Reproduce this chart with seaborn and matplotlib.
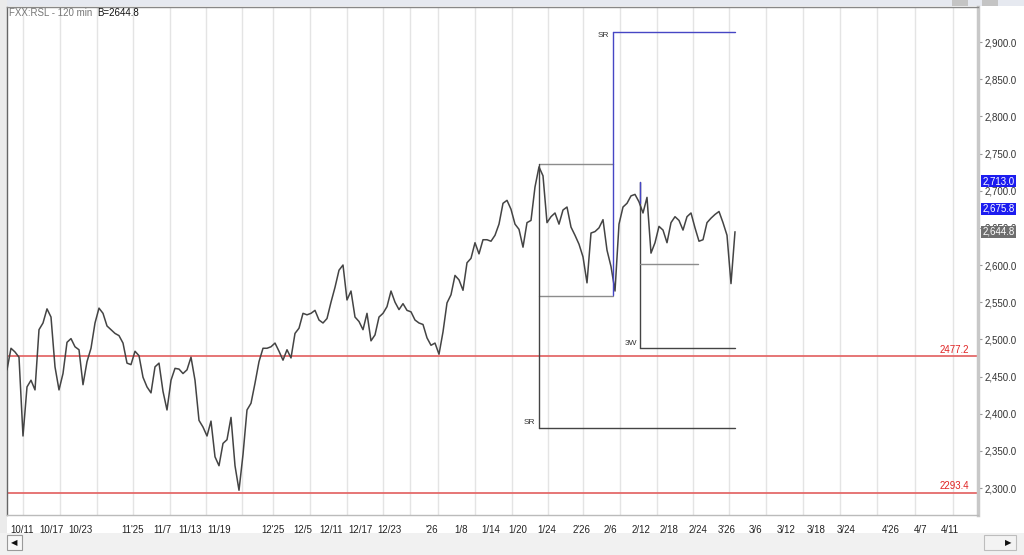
import matplotlib
matplotlib.use("Agg")
import matplotlib.pyplot as plt
from matplotlib.patches import Rectangle
from matplotlib.transforms import blended_transform_factory
import pandas as pd
import seaborn as sns

sns.set_style("white")
plt.rcParams['font.family'] = ['Liberation Sans', 'DejaVu Sans']

# 120 min closes, one value every ~4 px
closes = [
    2459, 2488, 2483, 2476, 2370, 2436, 2445, 2432, 2513, 2522,
    2541, 2530, 2463, 2432, 2454, 2496, 2501, 2490, 2486, 2439,
    2470, 2488, 2522, 2542, 2535, 2518, 2513, 2508, 2505, 2495,
    2468, 2466, 2484, 2478, 2449, 2436, 2428, 2463, 2468, 2430,
    2405, 2445, 2461, 2460, 2454, 2459, 2476, 2445, 2391, 2382,
    2370, 2390, 2342, 2330, 2360, 2365, 2395, 2330, 2297, 2345,
    2405, 2414, 2441, 2470, 2488, 2488, 2490, 2495, 2484, 2472,
    2486, 2475, 2508, 2515, 2535, 2533, 2535, 2539, 2526, 2522,
    2528, 2550, 2570, 2593, 2600, 2553, 2565, 2530, 2524, 2513,
    2535, 2498, 2506, 2530, 2535, 2544, 2565, 2550, 2540, 2548,
    2539, 2537, 2526, 2522, 2520, 2502, 2492, 2495, 2480, 2510,
    2549, 2560, 2586, 2580, 2566, 2603, 2609, 2630, 2615, 2634,
    2634, 2632, 2640, 2655, 2683, 2687, 2675, 2655, 2648, 2624,
    2657, 2660, 2705, 2732, 2720, 2657, 2665, 2670, 2655, 2674,
    2678, 2651, 2640, 2628, 2611, 2576, 2643, 2645, 2650, 2661,
    2620, 2598, 2565, 2655, 2678, 2683, 2693, 2695, 2685, 2670,
    2691, 2616, 2630, 2652, 2647, 2630, 2657, 2665, 2660, 2647,
    2665, 2670, 2650, 2632, 2634, 2657, 2663, 2668, 2672, 2657,
    2640, 2575, 2644.8,
]

date_labels = ["10/11", "10/17", "10/23", "11'25", "11/7", "11/13", "11/19",
               "12'25", "12/5", "12/11", "12/17", "12/23", "'26", "1/8", "1/14",
               "1/20", "1/24", "2'26", "2/6", "2/12", "2/18", "2/24", "3'26",
               "3/6", "3/12", "3/18", "3/24", "4'26", "4/7", "4/11"]
date_bars = [0.9, 8.2, 15.4, 28.5, 36.5, 42.75, 50, 63.5, 71.5, 78, 85.25,
             92.5, 104.5, 111.75, 118.5, 125.4, 132.6, 141.5, 149.25, 156.1,
             163.2, 170.4, 177.75, 185.4, 192.4, 199.8, 207.4, 218.6, 226.75,
             233.4]

grid_bars = [4, 13.25, 22.5, 31.5, 40.75, 49.75, 58.75, 66.5, 75.75, 85, 94,
             100.75, 107.75, 117, 126.25, 135.25, 144, 153.25, 162.5, 171.5,
             180.5, 189.75, 199, 208.25, 217.5, 227, 236.5]

# red support levels
support_levels = [2477.2, 2293.4]

# drawn study: SR box, SR targets, 3W target
box_bars = [133, 151.5]
box_levels = [2558, 2736]
sr_low_level = 2381
sr_high_level = 2913
blue_low = 2560
w3_bar = 158.25
w3_top = 2712
w3_box_level = 2601
w3_box_end = 172.75
w3_level = 2488
end_bar = 182

# highlighted price tags on the right scale
tag_values = [2713.0, 2675.8, 2644.8]
tag_colors = ["#1c1cf0", "#1c1cf0", "#6e6e6e"]

df = pd.DataFrame({"bar": range(len(closes)), "close": closes})

fig = plt.figure(figsize=(10.24, 5.55), dpi=100)
fig.patch.set_facecolor("white")
ax = fig.add_axes([7 / 1024, 40 / 555, 971 / 1024, 508 / 555])
ax.set_facecolor("white")

for g in grid_bars:
    ax.axvline(g, color="#e4e4e4", lw=1, zorder=0)

for lvl in support_levels:
    ax.axhline(lvl, color="#e46a6a", lw=1.3, zorder=1)
    ax.text(240.5, lvl + 2, f"{lvl}", color="#e02424", fontsize=7,
            ha="right", va="bottom")

sns.lineplot(data=df, x="bar", y="close", color="#444444", lw=1.1, ax=ax,
             zorder=3)

# SR box
gray = "#8c8c8c"
ax.plot([box_bars[0], box_bars[1]], [box_levels[1], box_levels[1]], color=gray, lw=1)
ax.plot([box_bars[0], box_bars[1]], [box_levels[0], box_levels[0]], color=gray, lw=1)
ax.plot([box_bars[0], box_bars[0]], [box_levels[1], sr_low_level], color="#444", lw=1)
ax.plot([box_bars[0], end_bar], [sr_low_level, sr_low_level], color="#444", lw=1)
ax.text(box_bars[0] - 1, sr_low_level + 7, "SR", fontsize=6, color="#333",
        ha="right", va="center")

blue = "#4646c4"
ax.plot([box_bars[1], box_bars[1]], [blue_low, sr_high_level], color=blue, lw=1, zorder=4)
ax.plot([box_bars[1], end_bar], [sr_high_level, sr_high_level], color=blue, lw=1)
ax.text(box_bars[1] - 1, sr_high_level - 4, "SR", fontsize=6, color="#333",
        ha="right", va="center")

# 3W
ax.plot([w3_bar, w3_bar], [w3_top, w3_level], color="#444", lw=1)
ax.plot([w3_bar, w3_bar], [w3_top, 2683], color=blue, lw=1, zorder=4)
ax.plot([w3_bar, w3_box_end], [w3_box_level, w3_box_level], color=gray, lw=1)
ax.plot([w3_bar, end_bar], [w3_level, w3_level], color="#444", lw=1)
ax.text(w3_bar - 0.8, w3_level + 7, "3W", fontsize=6, color="#333",
        ha="right", va="center")

ax.set_xlim(0, 242.75)
ax.set_ylim(2263.7, 2947.1)
ax.set_xlabel("")
ax.set_ylabel("")

ax.set_xticks(date_bars)
ax.set_xticklabels(date_labels)
for lbl in ax.get_xticklabels():
    lbl.set_ha("left")
ax.tick_params(axis="x", direction="out", length=4, width=0.8, color="#aaa",
               labelsize=7, labelcolor="#222", pad=3)

ax.yaxis.tick_right()
yt = list(range(2300, 2901, 50))
ax.set_yticks(yt)
ax.set_yticklabels([f"{v:,.1f}" for v in yt])
ax.tick_params(axis="y", direction="out", length=3, width=0.8, color="#999",
               labelsize=7, labelcolor="#333", pad=2)

for side, col, lw in [("left", "#666", 1), ("top", "#888", 1),
                      ("bottom", "#bbb", 1), ("right", "#c8c8c8", 2.5)]:
    ax.spines[side].set_color(col)
    ax.spines[side].set_linewidth(lw)
    ax.spines[side].set_visible(True)

tr = blended_transform_factory(ax.transAxes, ax.transData)
for v, c in zip(tag_values, tag_colors):
    ax.text(1.0045, v, f"{v:,.1f}", transform=tr, fontsize=7, color="white",
            ha="left", va="center", clip_on=False, zorder=6,
            bbox=dict(boxstyle="square,pad=0.12", facecolor=c, edgecolor="none"))

# header
fig.text(9 / 1024, 1 - 13 / 555, "FXX:RSL - 120 min", fontsize=7,
         color="#777", va="center", ha="left")
fig.text(97 / 1024, 1 - 13 / 555, "B=2644.8", fontsize=7, color="#111",
         va="center", ha="left")

# window chrome
fig.add_artist(Rectangle((0, 1 - 6 / 555), 1, 6 / 555, transform=fig.transFigure,
                         facecolor="#e6e9f0", edgecolor="none", zorder=0))
for x0 in [952, 982]:
    fig.add_artist(Rectangle((x0 / 1024, 1 - 6 / 555), 16 / 1024, 6 / 555,
                             transform=fig.transFigure, facecolor="#c4c4c4",
                             edgecolor="none"))
fig.add_artist(Rectangle((0, 0), 7 / 1024, 1, transform=fig.transFigure,
                         facecolor="#ebebeb", edgecolor="none", zorder=0))
fig.add_artist(Rectangle((0, 0), 1, 22 / 555, transform=fig.transFigure,
                         facecolor="#f1f1f1", edgecolor="none", zorder=0))
fig.add_artist(Rectangle((7 / 1024, 5 / 555), 15 / 1024, 15 / 555,
                         transform=fig.transFigure, facecolor="#f8f8f8",
                         edgecolor="#9a9a9a", lw=0.8))
fig.add_artist(Rectangle((984 / 1024, 5 / 555), 32 / 1024, 15 / 555,
                         transform=fig.transFigure, facecolor="#f3f3f3",
                         edgecolor="#bdbdbd", lw=0.8))
fig.text(14.5 / 1024, 12.5 / 555, "◀", fontsize=6, ha="center", va="center",
         family="DejaVu Sans", color="#111")
fig.text(1008 / 1024, 12.5 / 555, "▶", fontsize=6, ha="center", va="center",
         family="DejaVu Sans", color="#111")

fig.savefig("out.png", dpi=100)
